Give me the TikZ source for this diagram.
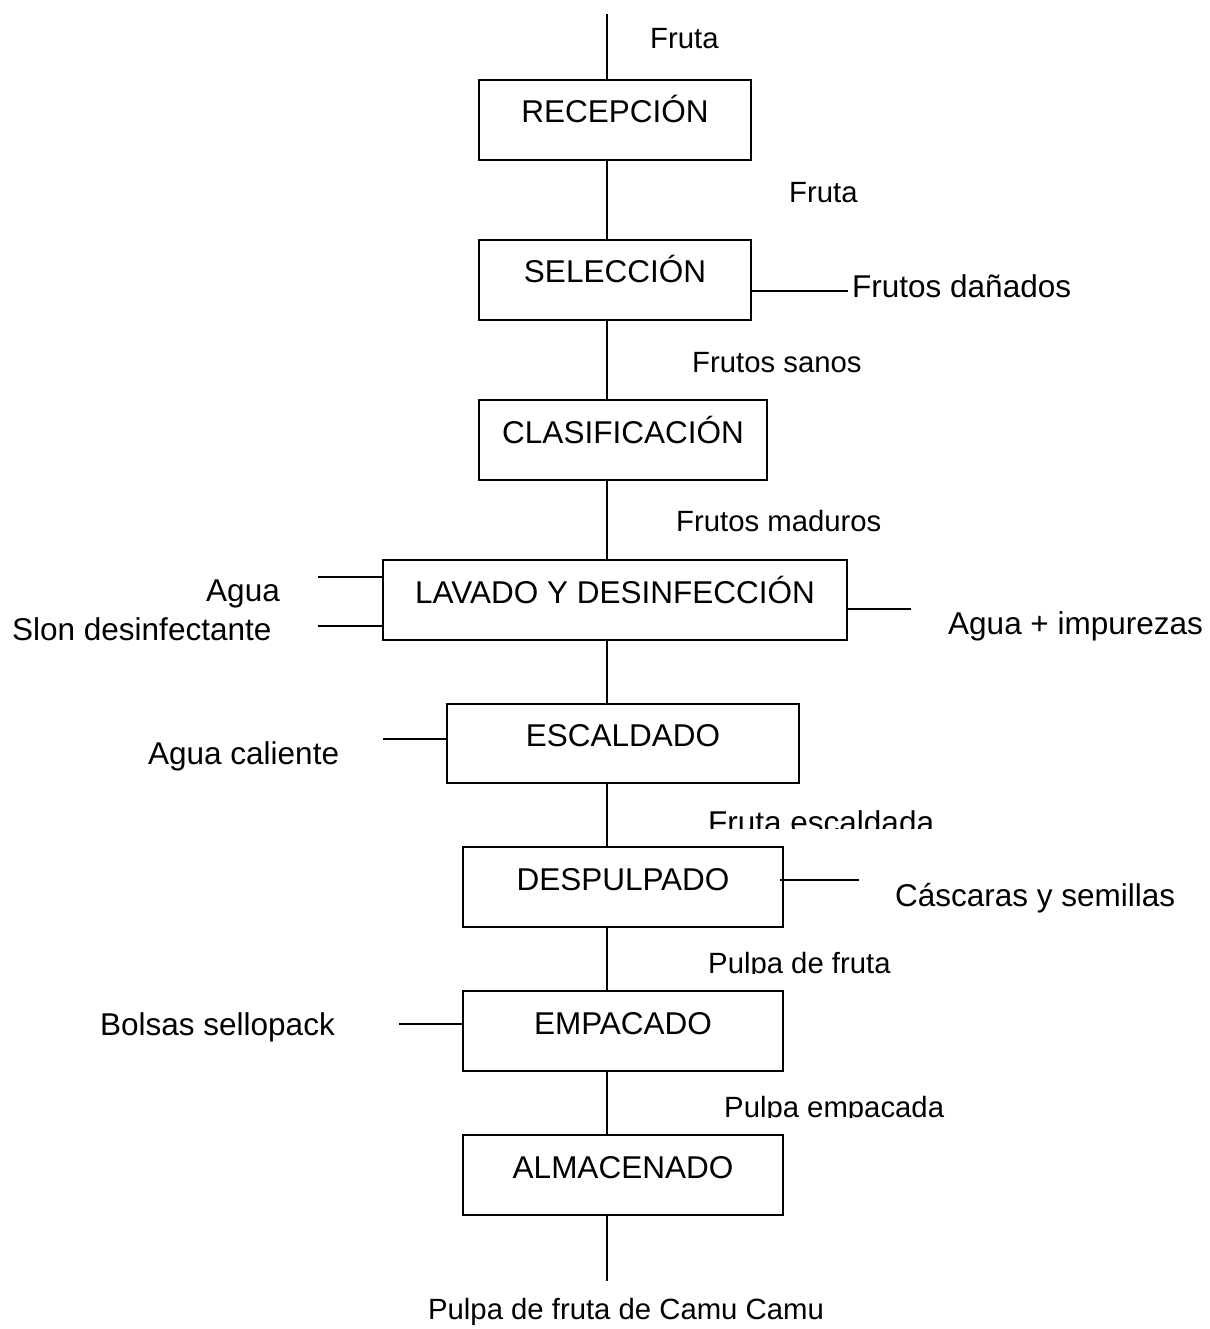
\documentclass[tikz,border=0pt]{standalone}
\usepackage{fontspec}
\setmainfont{Liberation Sans}
\begin{document}
\begin{tikzpicture}[x=1pt,y=-1pt,
  every node/.style={font=\fontsize{31.5}{38}\selectfont},
  small/.style={font=\fontsize{29.3}{35}\selectfont},
  stepbox/.style={draw,line width=1.6pt,rectangle,inner sep=0pt,minimum height=80pt,text height=24pt,text depth=18pt},
  flow/.style={line width=1.6pt},
  lbl/.style={inner sep=0pt,anchor=base west},
  lble/.style={inner sep=0pt,anchor=base east}]
\useasboundingbox (0,0) rectangle (1209,1329);
\coordinate (axis) at (607,0);
% boxes
\node[stepbox,minimum width=272pt] (recep) at (615,120) {RECEPCIÓN};
\node[stepbox,minimum width=272pt] (selec) at (615,280) {SELECCIÓN};
\node[stepbox,minimum width=288pt] (clasif) at (623,440) {CLASIFICACIÓN};
\node[stepbox,minimum width=464pt] (lavado) at (615,600) {LAVADO Y DESINFECCIÓN};
\node[stepbox,minimum width=352pt,minimum height=79pt] (escal) at (623,743.5) {ESCALDADO};
\node[stepbox,minimum width=320pt] (desp) at (623,887) {DESPULPADO};
\node[stepbox,minimum width=320pt] (emp) at (623,1031) {EMPACADO};
\node[stepbox,minimum width=320pt] (alma) at (623,1175) {ALMACENADO};
% main axis
\coordinate (top) at (607,14);
\coordinate (bottom) at (607,1281);
\draw[flow] (top) -- (recep.north -| axis);
\draw[flow] (recep.south -| axis) -- (selec.north -| axis);
\draw[flow] (selec.south -| axis) -- (clasif.north -| axis);
\draw[flow] (clasif.south -| axis) -- (lavado.north -| axis);
\draw[flow] (lavado.south -| axis) -- (escal.north -| axis);
\draw[flow] (escal.south -| axis) -- (desp.north -| axis);
\draw[flow] (desp.south -| axis) -- (emp.north -| axis);
\draw[flow] (emp.south -| axis) -- (alma.north -| axis);
\draw[flow] (alma.south -| axis) -- (bottom);
% side streams
\coordinate (selR) at (848,291);
\draw[flow] ([yshift=-11pt]selec.east) -- (selR);
\coordinate (lavL1) at (318,577);
\coordinate (lavL2) at (318,626);
\coordinate (lavR) at (911,609);
\draw[flow] (lavL1) -- ([yshift=23pt]lavado.west);
\draw[flow] (lavL2) -- ([yshift=-26pt]lavado.west);
\draw[flow] ([yshift=-9pt]lavado.east) -- (lavR);
\coordinate (escL) at (383,739);
\draw[flow] (escL) -- ([yshift=4.5pt]escal.west);
\coordinate (despR) at (859,880);
\draw[flow] ([xshift=-4pt,yshift=7pt]desp.east) -- (despR);
\coordinate (empL) at (399,1024);
\draw[flow] (empL) -- ([yshift=7pt]emp.west);
% labels
\node[lbl,small] (l1) at (650,49) {Fruta};
\node[lbl,small] (l2) at (789,203) {Fruta};
\node[lbl] (l3) at (852,298) {Frutos dañados};
\node[lbl,small] (l4) at (692,372) {Frutos sanos};
\node[lbl,small] (l5) at (676,531) {Frutos maduros};
\node[lble] (l6) at (280,601) {Agua};
\node[lbl] (l7) at (12,640) {Slon desinfectante};
\node[lbl] (l8) at (948,634) {Agua + impurezas};
\node[lbl] (l9) at (148,764) {Agua caliente};
\begin{scope}
\clip (600,780) rectangle (1000,828);
\node[lbl] (l10) at (708,833) {Fruta escaldada};
\end{scope}
\node[lbl] (l11) at (895,906) {Cáscaras y semillas};
\begin{scope}
\clip (600,930) rectangle (1000,973);
\node[lbl,small] (l12) at (708,973) {Pulpa de fruta};
\end{scope}
\begin{scope}
\clip (600,1075) rectangle (1000,1117);
\node[lbl,small] (l14) at (724,1117) {Pulpa empacada};
\end{scope}
\node[lbl] (l13) at (100,1035) {Bolsas sellopack};
\node[inner sep=0pt,anchor=base,small] (l15) at (626,1319) {Pulpa de fruta de Camu Camu};
\end{tikzpicture}
\end{document}
